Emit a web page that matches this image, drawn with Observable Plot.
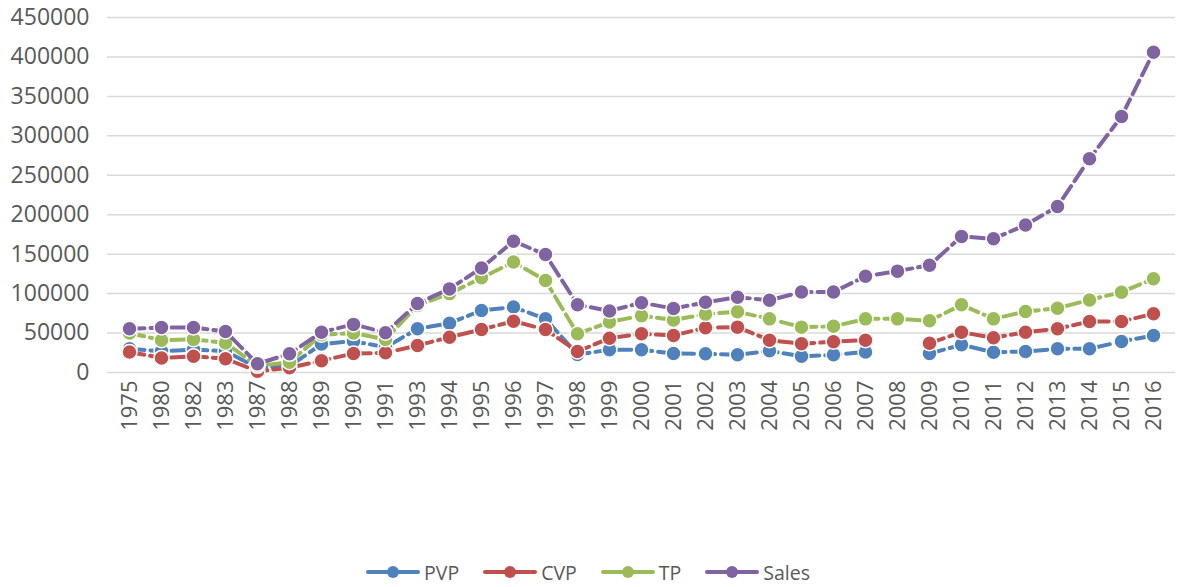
<!DOCTYPE html>
<html>
<head>
<meta charset="utf-8">
<script src="https://cdn.jsdelivr.net/npm/d3@7"></script>
<script src="https://cdn.jsdelivr.net/npm/@observablehq/plot@0.6"></script>
<style>
  html, body { margin: 0; padding: 0; background: #fff; }
  #chart { width: 1186px; }
  .legend { display: flex; justify-content: center; align-items: center; gap: 24px;
            margin-top: 120px; height: 24px; font-family: "Open Sans", sans-serif;
            font-size: 19.5px; color: #595959; padding-right: 10px; }
  .legend .item { display: flex; align-items: center; }
  .legend svg { margin-right: 4px; }
</style>
</head>
<body>
<div id="chart"></div>
<script>
const years = ["1975","1980","1982","1983","1987","1988","1989","1990","1991","1993","1994","1995","1996","1997","1998","1999","2000","2001","2002","2003","2004","2005","2006","2007","2008","2009","2010","2011","2012","2013","2014","2015","2016"];
const pvp = [30000,27000,29000,27000,6000,8000,36000,39700,32000,55400,62500,78600,83000,68000,22800,28800,28800,24000,23700,22400,27500,20500,22500,26000,null,24000,35100,25700,26600,30000,30000,39300,46900];
const cvp = [26000,18500,20500,17500,1500,6000,15000,24000,25000,34200,44800,54500,65000,54500,26600,43500,49000,47000,56700,57500,41000,36400,39000,41000,null,37200,51100,44000,51100,55400,64700,64700,74400];
const tp = [50000,41000,42000,37500,8500,13000,48000,50000,42000,85000,100000,120000,140000,116500,49000,64000,72000,66500,74000,77000,68000,57500,58500,68000,68000,65500,85800,68000,77300,81500,92000,101800,118800];
const sales = [55500,57000,57000,52000,11000,23700,51000,61000,50500,87500,106000,132500,166500,149500,86000,78000,88500,81000,89000,95500,91500,102000,102000,122000,128500,136000,172500,169500,187000,210500,271000,324500,406000];
const yTicks = [0,50000,100000,150000,200000,250000,300000,350000,400000,450000];
const seriesNames = ["PVP","CVP","TP","Sales"];
const seriesColors = ["#4F81BD","#C0504D","#9BBB59","#8064A2"];

const seriesValues = [pvp, cvp, tp, sales];
const seriesMarks = seriesValues.flatMap((vals, s) => {
  const rows = years.map((year, i) => ({year, value: vals[i]}));
  return [
    Plot.line(rows, {x: "year", y: "value", stroke: seriesColors[s], strokeWidth: 4, strokeDasharray: "15,6"}),
    Plot.dot(rows.filter(d => d.value != null), {x: "year", y: "value", r: 7.5, fill: seriesColors[s], stroke: "white", strokeWidth: 1.5})
  ];
});

const chart = Plot.plot({
  width: 1186,
  height: 440,
  marginTop: 17,
  marginBottom: 68,
  marginLeft: 107,
  marginRight: 11,
  style: {fontFamily: "Open Sans, sans-serif", color: "#595959", background: "white"},
  x: {type: "point", domain: years, padding: 0.5, label: null},
  y: {domain: [0, 450000], label: null},
  marks: [
    Plot.gridY(yTicks, {stroke: "#d9d9d9", strokeOpacity: 1, strokeWidth: 1.5}),
    Plot.axisY(yTicks, {tickSize: 0, tickPadding: 18, fontSize: 23, tickFormat: d => String(d), label: null}),
    Plot.axisX({tickRotate: -90, tickSize: 0, tickPadding: 8, fontSize: 22, label: null}),
    ...seriesMarks
  ]
});
document.getElementById("chart").appendChild(chart);

const legend = document.createElement("div");
legend.className = "legend";
seriesNames.forEach((name, s) => {
  const item = document.createElement("div");
  item.className = "item";
  item.innerHTML = `<svg width="54" height="16"><line x1="2" y1="8" x2="52" y2="8" stroke="${seriesColors[s]}" stroke-width="4" stroke-linecap="round"/><circle cx="27" cy="8" r="6" fill="${seriesColors[s]}"/></svg><span>${name}</span>`;
  legend.appendChild(item);
});
document.body.appendChild(legend);
</script>
</body>
</html>
